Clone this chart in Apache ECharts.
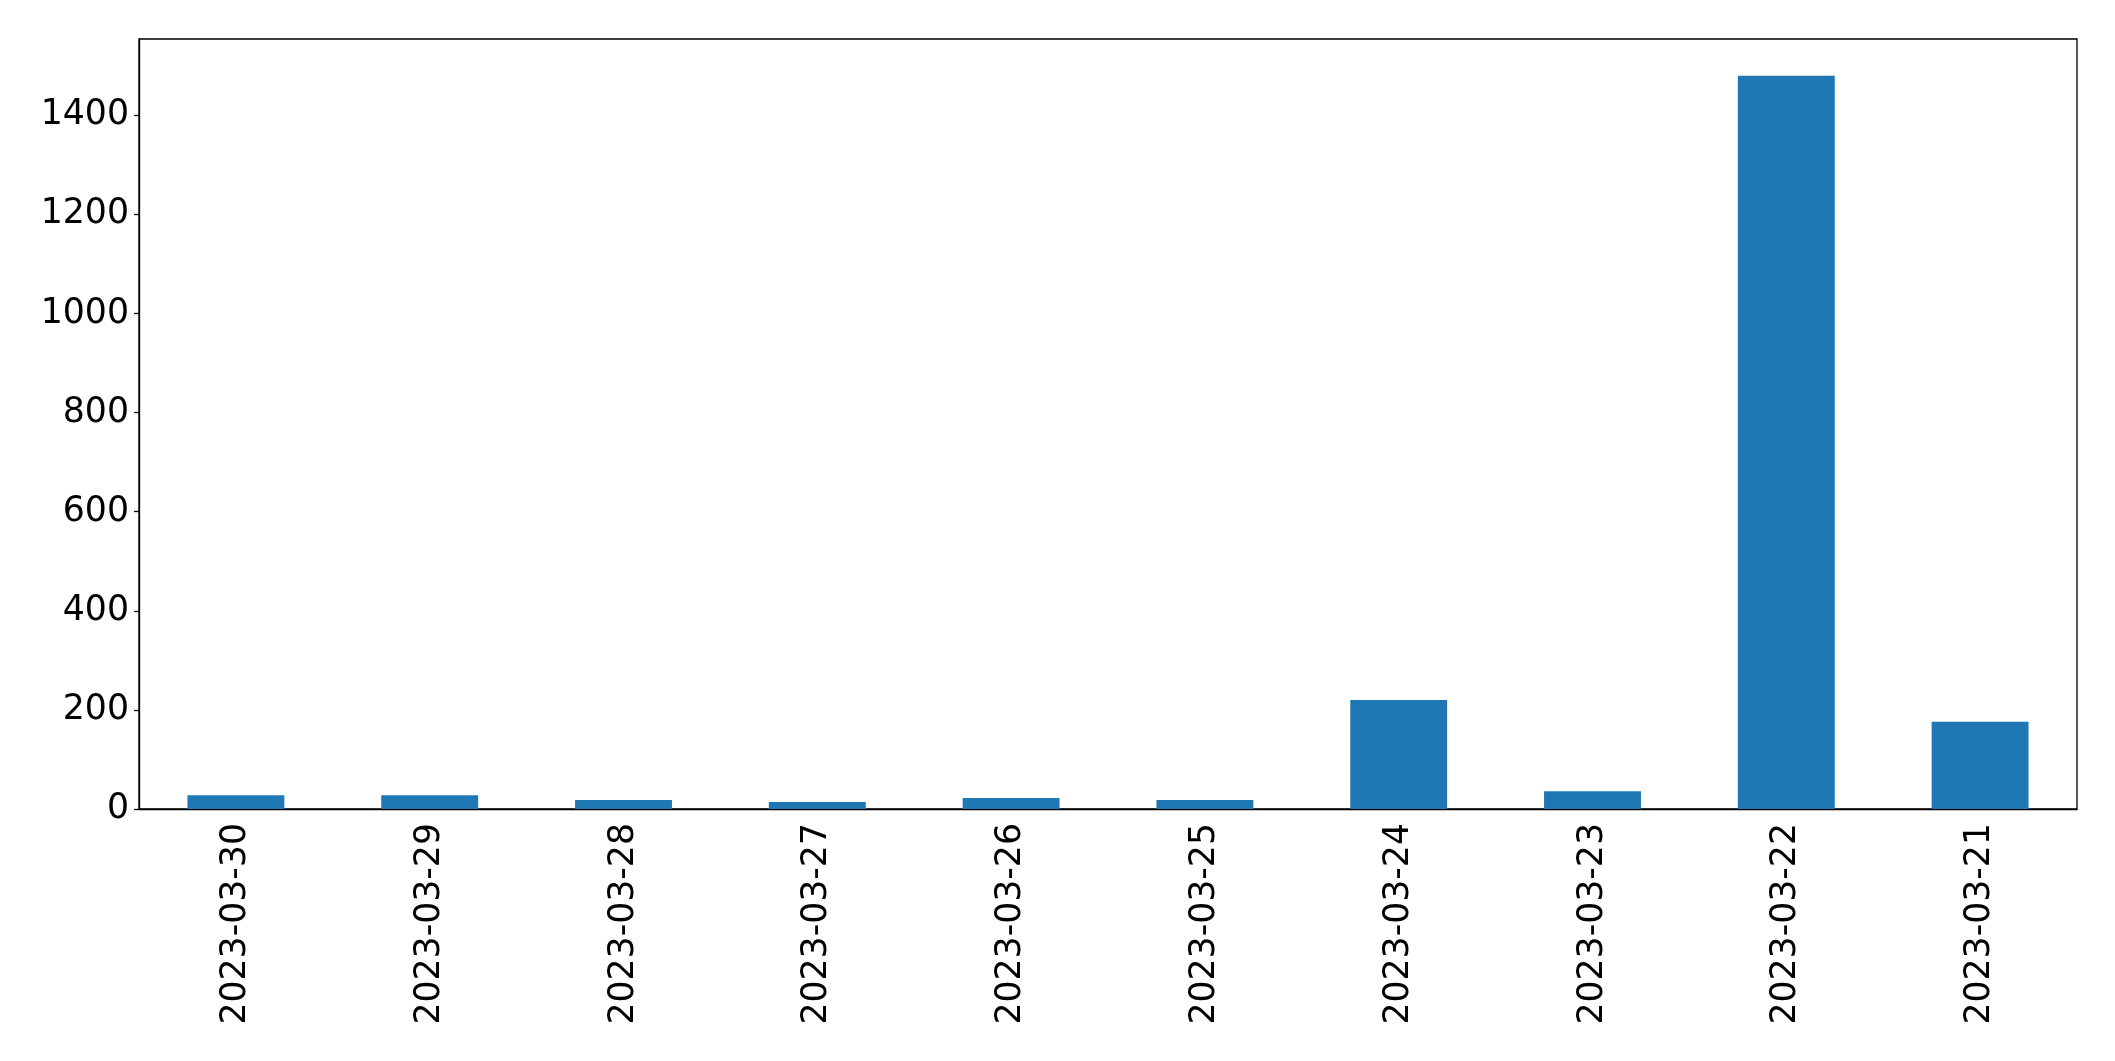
<!DOCTYPE html>
<html>
<head>
<meta charset="utf-8">
<script src="https://cdn.jsdelivr.net/npm/echarts@6/dist/echarts.min.js"></script>
<style>
html,body{margin:0;padding:0;background:#fff;}
#chart{width:2115px;height:1061px;}
</style>
</head>
<body>
<div id="chart"></div>
<script>
const categories = ["2023-03-30","2023-03-29","2023-03-28","2023-03-27","2023-03-26","2023-03-25","2023-03-24","2023-03-23","2023-03-22","2023-03-21"];
const counts = [28, 28, 18, 14, 22, 18, 220, 36, 1480, 176];
const yTicks = [0, 200, 400, 600, 800, 1000, 1200, 1400];
const yMax = 1554;

const chart = echarts.init(document.getElementById('chart'));
const font = 'DejaVu Sans';
chart.setOption({
  animation: false,
  backgroundColor: '#ffffff',
  grid: {
    left: 139, right: 38, top: 39, bottom: 252,
    show: true, borderColor: '#000', borderWidth: 1.3, backgroundColor: 'transparent'
  },
  xAxis: {
    type: 'category',
    data: categories,
    axisLine: { lineStyle: { color: '#000', width: 1.3 } },
    axisTick: { alignWithLabel: true, length: 5, lineStyle: { color: '#000', width: 1.3 } },
    axisLabel: { rotate: 90, margin: 14, color: '#000', fontFamily: font, fontSize: 34.7 },
    splitLine: { show: false }
  },
  yAxis: {
    type: 'value',
    min: 0, max: yMax,
    axisLine: { show: true, lineStyle: { color: '#000', width: 1.3 } },
    axisTick: { show: true, length: 5, customValues: yTicks, lineStyle: { color: '#000', width: 1.3 } },
    axisLabel: { margin: 10, color: '#000', fontFamily: font, fontSize: 34.7, customValues: yTicks,
                 padding: [7, 0, 0, 0],
                 formatter: function (v) { return String(v); } },
    splitLine: { show: false }
  },
  series: [{
    type: 'bar',
    data: counts,
    barWidth: '50%',
    itemStyle: { color: '#1f77b4' }
  }]
});
</script>
</body>
</html>
